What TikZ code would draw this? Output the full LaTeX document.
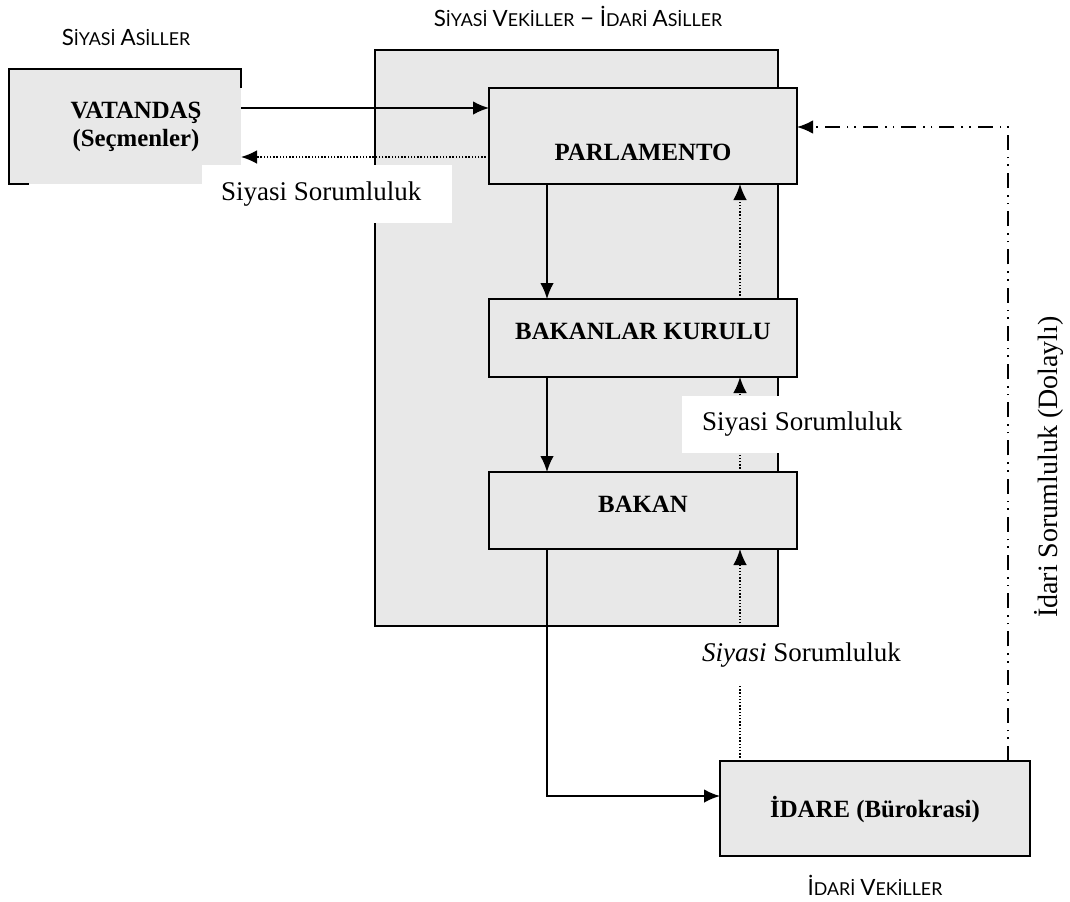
\documentclass[tikz,border=0pt]{standalone}
\usepackage{fontspec}
\setmainfont{Liberation Serif}
\newfontfamily\baslikfont{Lato}
\usetikzlibrary{arrows.meta}
\definecolor{kutugri}{RGB}{232,232,232}
\tikzstyle{kutu}=[draw,line width=1.1pt,fill=kutugri,inner sep=0pt,outer sep=0pt,font=\fontsize{12.4}{14}\selectfont\bfseries]
\tikzstyle{etiket}=[fill=white,inner sep=0pt,outer sep=0pt,font=\fontsize{13.5}{15}\selectfont]
\tikzstyle{baslik}=[inner sep=0pt,font=\baslikfont]
\tikzstyle{ok}=[draw,line width=0.9pt,-{Latex[length=8pt,width=6.8pt]}]
\tikzstyle{noktali}=[ok,line width=0.75pt,dash pattern=on 0.75pt off 0.85pt]
\tikzstyle{noktatire}=[ok,line width=0.9pt,dash pattern=on 7.5pt off 3.5pt on 0.8pt off 3pt on 0.8pt off 3.5pt]
\newcommand{\kb}[2]{{\fontsize{11.2}{13}\selectfont #1}{\fontsize{8.9}{10}\selectfont #2}}

\begin{document}
\begin{tikzpicture}[x={(0.5pt,0)},y={(0,-0.5pt)}]
  \fill[white] (0,0) rectangle (1070,901);
  \useasboundingbox (0,0) rectangle (1070,901);
  % basliklar
  \node[baslik] (h1) at (126,37) {\kb{S}{İYASİ} \kb{A}{SİLLER}};
  \node[baslik] (h2) at (578,16) {\kb{S}{İYASİ} \kb{V}{EKİLLER} {\fontsize{13}{13}\selectfont –} \kb{İ}{DARİ} \kb{A}{SİLLER}};
  \node[baslik] (h3) at (875,885) {\kb{İ}{DARİ} \kb{V}{EKİLLER}};
  % kutular
  \node[kutu, minimum width=201.5pt, minimum height=288pt] (dis) at (576.5,338) {};
  \node[kutu, draw=none, minimum width=116pt, minimum height=57.5pt] (vat) at (125,126.5)
    {\raisebox{-2.7pt}{\begin{tabular}{@{}c@{}}\hspace*{11pt}VATANDAŞ\\\hspace*{11pt}(Seçmenler)\end{tabular}}};
  \draw[line width=1.1pt] (vat.south west) ++(20,0) -- (vat.south west) -- (vat.north west) -- (vat.north east) -- ++(0,19);
  \node[kutu, minimum width=154pt, text height=36pt, text depth=12pt, anchor=north] (parl) at (643,88) {PARLAMENTO};
  \node[kutu, minimum width=154pt, text height=20pt, text depth=19pt, anchor=north] (bk) at (643,299) {BAKANLAR KURULU};
  \node[kutu, minimum width=154pt, text height=20pt, text depth=18.5pt, anchor=north] (bakan) at (643,472) {BAKAN};
  \node[kutu, minimum width=155pt, text height=28pt, text depth=19.5pt, anchor=north] (idare) at (875,761) {İDARE (Bürokrasi)};
  % yardimci noktalar
  \coordinate (xl) at (547,0);
  \coordinate (xr) at (740,0);
  \coordinate (xd) at (1008,127);
  \coordinate (ya) at (0,796);
  % baglantilar
  \draw[ok] (vat.east |- 0,108) -- (parl.west |- 0,108);
  \draw[noktali] (parl.west |- 0,157) -- (vat.east |- 0,157);
  \draw[ok] (parl.south -| xl) -- (bk.north -| xl);
  \draw[ok] (bk.south -| xl) -- (bakan.north -| xl);
  \draw[ok] (bakan.south -| xl) |- (idare.west |- ya);
  \draw[noktali] (bk.north -| xr) -- (parl.south -| xr);
  \draw[noktali] (bakan.north -| xr) -- (bk.south -| xr);
  \draw[noktali] (idare.north -| xr) -- (bakan.south -| xr);
  \draw[noktatire] (idare.north -| xd) -- (xd) -- (parl.east |- xd);
  % etiketler
  \node[etiket, anchor=north west, minimum height=29pt, inner xsep=9.5pt] (e1) at (202,165) {\makebox[106pt][l]{Siyasi Sorumluluk}};
  \node[etiket, anchor=north west, minimum height=28.5pt, inner xsep=10pt] (e2) at (682,396) {\makebox[105pt][l]{Siyasi Sorumluluk}};
  \node[etiket, anchor=north west, minimum height=28.5pt, inner xsep=10pt] (e3) at (682,627) {\makebox[105pt][l]{\textit{Siyasi} Sorumluluk}};
  \node[etiket, fill=none, font=\fontsize{14}{16}\selectfont, rotate=90] (e4) at (1049,467) {İdari Sorumluluk (Dolaylı)};
\end{tikzpicture}
\end{document}
